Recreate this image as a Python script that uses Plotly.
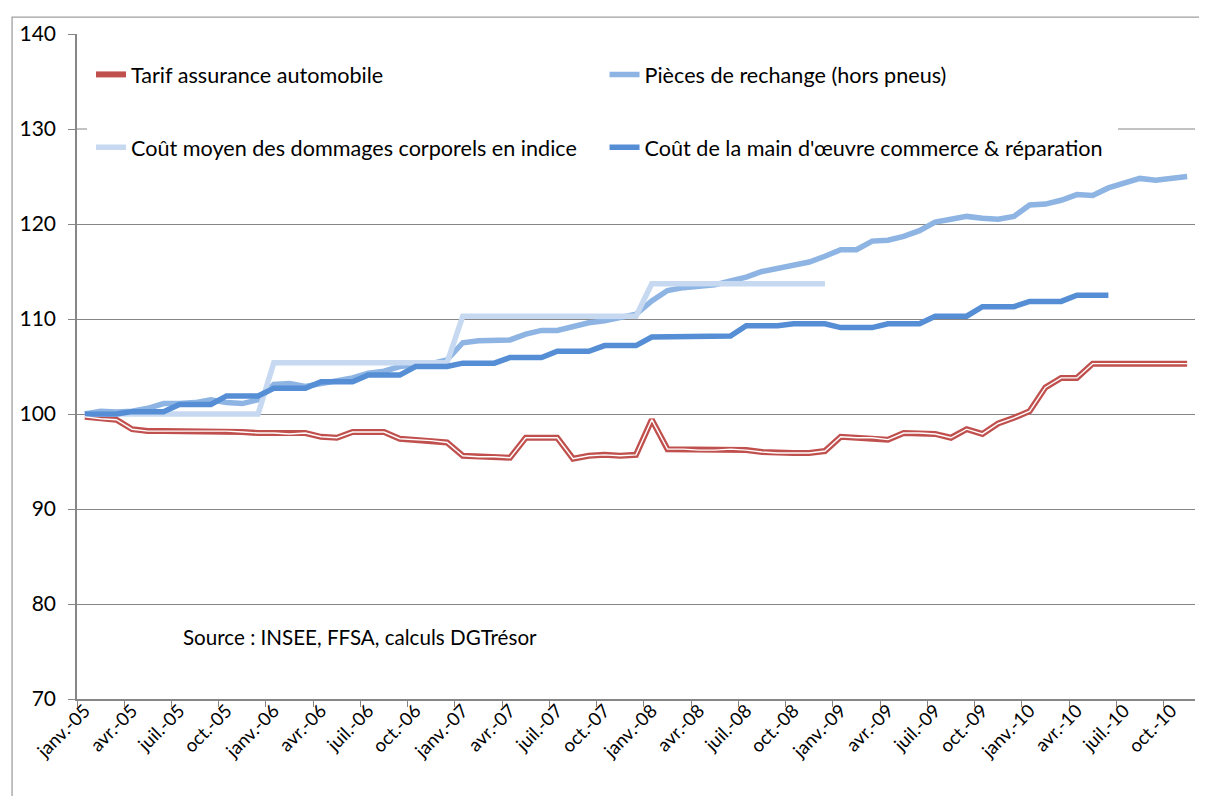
import plotly.graph_objects as go

month_names = ["janv.", "févr.", "mars", "avr.", "mai", "juin",
               "juil.", "août", "sept.", "oct.", "nov.", "déc."]
years = ["05", "06", "07", "08", "09", "10"]
months = [f"{m}-{y}" for y in years for m in month_names][:71]

tarif = [99.7, 99.5, 99.4, 98.4, 98.2, 98.2, 98.2, 98.2, 98.2, 98.2, 98.1, 98.0,
         98.0, 97.9, 98.0, 97.6, 97.5, 98.1, 98.1, 98.1, 97.4, 97.3, 97.2, 97.0,
         95.6, 95.5, 95.5, 95.4, 97.5, 97.5, 97.5, 95.3, 95.6, 95.7, 95.6, 95.7,
         99.4, 96.3, 96.3, 96.2, 96.2, 96.3, 96.2, 96.0, 95.9, 95.9, 95.9, 96.1,
         97.6, 97.5, 97.5, 97.3, 98.0, 98.0, 97.9, 97.5, 98.4, 97.9, 99.0, 99.6,
         100.3, 102.8, 103.8, 103.8, 105.3, 105.3, 105.3, 105.3, 105.3, 105.3, 105.3]

pieces = [100.0, 100.3, 100.2, 100.3, 100.6, 101.1, 101.1, 101.2, 101.5, 101.2, 101.1, 101.5,
          103.1, 103.2, 102.9, 103.2, 103.5, 103.8, 104.3, 104.5, 105.0, 105.2, 105.3, 105.7,
          107.5, 107.7, 107.7, 107.8, 108.4, 108.8, 108.8, 109.2, 109.6, 109.8, 110.1, 110.5,
          111.9, 113.0, 113.3, 113.4, 113.6, 114.0, 114.4, 115.0, 115.3, 115.6, 116.0, 116.6,
          117.3, 117.3, 118.2, 118.3, 118.7, 119.3, 120.2, 120.5, 120.8, 120.6, 120.5, 120.8,
          122.0, 122.1, 122.5, 123.1, 123.0, 123.8, 124.3, 124.8, 124.6, 124.8, 125.0]

corporel = [100.0, 100.0, 100.0, 100.0, 100.0, 100.0, 100.0, 100.0, 100.0, 100.0, 100.0, 100.0,
            105.4, 105.4, 105.4, 105.4, 105.4, 105.4, 105.4, 105.4, 105.4, 105.4, 105.4, 105.4,
            110.3, 110.3, 110.3, 110.3, 110.3, 110.3, 110.3, 110.3, 110.3, 110.3, 110.3, 110.3,
            113.7, 113.7, 113.7, 113.7, 113.7, 113.7, 113.7, 113.7, 113.7, 113.7, 113.7, 113.7]

main_oeuvre = [100.0, 100.0, 100.0, 100.25, 100.25, 100.25, 101.0, 101.0, 101.0, 101.9, 101.9, 101.9,
               102.7, 102.7, 102.7, 103.4, 103.4, 103.4, 104.1, 104.1, 104.1, 105.0, 105.0, 105.0,
               105.35, 105.35, 105.35, 105.95, 105.95, 105.95, 106.6, 106.6, 106.6, 107.2, 107.2, 107.2,
               108.1, 108.1, 108.1, 108.2, 108.2, 108.2, 109.3, 109.3, 109.3, 109.5, 109.5, 109.5,
               109.1, 109.1, 109.1, 109.5, 109.5, 109.5, 110.3, 110.3, 110.3, 111.3, 111.3, 111.3,
               111.85, 111.85, 111.85, 112.5, 112.5, 112.5]

y_ticks = [70, 80, 90, 100, 110, 120, 130, 140]
grid_ticks = [70, 80, 90, 100, 110, 120, 140]   # the 130 line is hidden by the legend box

names = ["Tarif assurance automobile", "Pièces de rechange (hors pneus)",
         "Coût moyen des dommages corporels en indice",
         "Coût de la main d'œuvre commerce & réparation"]
colors = ["#C0504D", "#8DB4E2", "#C6D9F1", "#558ED5"]

FONT = "Lato"
GRID = "#868686"

OFF = 8  # page body offset
L, R, T, B = 68, 12, 24, 97
W, H = 1199, 788
PW, PH = W - L - R, H - T - B


def px_x(p):
    return (p - OFF - L) / PW


def px_y(p):
    return (H - B - (p - OFF)) / PH


fig = go.Figure()

fig.add_trace(go.Scatter(x=months[:len(tarif)], y=tarif, mode="lines", name=names[0],
                         line=dict(color=colors[0], width=6), legend="legend"))
fig.add_trace(go.Scatter(x=months[:len(pieces)], y=pieces, mode="lines", name=names[1],
                         line=dict(color=colors[1], width=5.5), legend="legend2"))
fig.add_trace(go.Scatter(x=months[:len(corporel)], y=corporel, mode="lines", name=names[2],
                         line=dict(color=colors[2], width=5.5), legend="legend3"))
fig.add_trace(go.Scatter(x=months[:len(main_oeuvre)], y=main_oeuvre, mode="lines", name=names[3],
                         line=dict(color=colors[3], width=5.5), legend="legend4"))
# white centre stripe of the red double line (on the overlay axis that carries the grid)
fig.add_trace(go.Scatter(x=months[:len(tarif)], y=tarif, mode="lines", showlegend=False,
                         hoverinfo="skip", line=dict(color="white", width=1.4), yaxis="y2"))

leg_common = dict(font=dict(family=FONT, size=21.6, color="black"), bgcolor="rgba(0,0,0,0)",
                  xanchor="left", yanchor="middle", orientation="h")
fig.update_layout(
    legend=dict(x=px_x(90), y=px_y(73), **leg_common),
    legend2=dict(x=px_x(604), y=px_y(73), **leg_common),
    legend3=dict(x=px_x(90), y=px_y(146), **leg_common),
    legend4=dict(x=px_x(604), y=px_y(146), **leg_common),
)

# visible bits of the 130 gridline on both sides of the legend box
fig.add_shape(type="line", xref="paper", yref="y", x0=0, x1=px_x(86), y0=130, y1=130,
              line=dict(color=GRID, width=1), layer="below")
fig.add_shape(type="line", xref="paper", yref="y", x0=px_x(1118), x1=1, y0=130, y1=130,
              line=dict(color=GRID, width=1), layer="below")
# outer chart border
fig.add_shape(type="rect", xref="paper", yref="paper", layer="above",
              x0=px_x(11), x1=px_x(1215), y0=px_y(805), y1=px_y(15),
              fillcolor="rgba(0,0,0,0)", line=dict(color="#A0A0A0", width=1.3))

fig.update_layout(
    width=W, height=H,
    margin=dict(l=L, r=R, t=T, b=B),
    paper_bgcolor="white", plot_bgcolor="white",
    font=dict(family=FONT, color="black"),
    xaxis=dict(type="category", range=[-0.5, 70.5], tickmode="linear", tick0=0, dtick=3,
               tickson="boundaries", ticks="outside", ticklen=6, tickcolor=GRID,
               showline=True, linecolor=GRID, linewidth=1.5, showgrid=False,
               tickangle=-45, ticklabelstandoff=-8,
               tickfont=dict(family=FONT, size=18.5, color="black")),
    yaxis=dict(range=[70, 140], tickmode="array", tickvals=y_ticks,
               showline=True, linecolor=GRID, linewidth=1.5, showgrid=False,
               ticks="outside", ticklen=7, tickcolor=GRID, zeroline=False,
               ticklabelstandoff=8,
               tickfont=dict(family=FONT, size=21, color="black")),
    yaxis2=dict(range=[70, 140], overlaying="y", side="left", tickmode="array",
                tickvals=grid_ticks, showticklabels=False, ticks="", showline=False,
                showgrid=True, gridcolor=GRID, gridwidth=1, zeroline=False),
    annotations=[
        dict(text="Source : INSEE, FFSA, calculs DGTrésor", xref="paper", yref="paper",
             x=px_x(180), y=px_y(637), xanchor="left", yanchor="middle", showarrow=False,
             font=dict(family=FONT, size=20.6, color="black")),
    ],
)

fig.write_html("out.html")
